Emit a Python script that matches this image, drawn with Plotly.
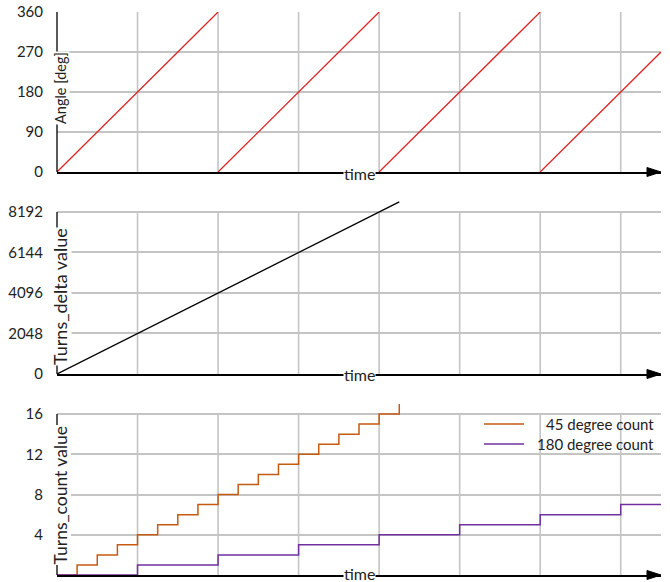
import plotly.graph_objects as go

# ---------------- data ----------------
grid_x = [1, 2, 3, 4, 5, 6, 7]
time_max = 7.5

angle_x = [0, 2, None, 2, 4, None, 4, 6, None, 6, 7.5]
angle_y = [0, 360, None, 0, 360, None, 0, 360, None, 0, 270]
angle_ticks = [0, 90, 180, 270, 360]

delta_x = [0, 4.25]
delta_y = [0, 8704]
delta_ticks = [0, 2048, 4096, 6144, 8192]

count45_x = [0, 0.25, 0.5, 0.75, 1, 1.25, 1.5, 1.75, 2, 2.25, 2.5, 2.75, 3,
             3.25, 3.5, 3.75, 4, 4.25]
count45_y = [0, 1, 2, 3, 4, 5, 6, 7, 8, 9, 10, 11, 12, 13, 14, 15, 16, 17]
count180_x = [0, 1, 2, 3, 4, 5, 6, 7, 7.5]
count180_y = [0, 1, 2, 3, 4, 5, 6, 7, 7]
count_ticks = [0, 4, 8, 12, 16]

legend_names = ["45 degree count", "180 degree count"]
y_titles = ["Angle [deg]", "Turns_delta value", "Turns_count value"]
x_title = "time"

# ---------------- style ----------------
FONT = "Lato, Carlito, Calibri, sans-serif"
RED = "#DD2525"
ORANGE = "#C55A11"
PURPLE = "#7030A0"
GRID = "#C4C4C4"
W, H = 670, 582
ML, MR, MT, MB = 57, 9, 12, 7
PH = H - MT - MB


def domain(y0px, ytoppx, frac):
    bot = (H - MB - y0px) / PH
    top = (H - MB - (y0px - frac * (y0px - ytoppx))) / PH
    return [bot, min(top, 1.0)]


panels = [
    dict(ticks=angle_ticks, rmax=360, px=(172, 12), tsize=14.5, tshift=4),
    dict(ticks=delta_ticks, rmax=8900, px=(374, 212), tsize=18, tshift=-4),
    dict(ticks=count_ticks, rmax=17.6, px=(575, 414), tsize=17.5, tshift=-1),
]

fig = go.Figure()
fig.add_trace(go.Scatter(x=angle_x, y=angle_y, mode="lines",
                         line=dict(color=RED, width=1.3), xaxis="x", yaxis="y",
                         showlegend=False, connectgaps=False))
fig.add_trace(go.Scatter(x=delta_x, y=delta_y, mode="lines",
                         line=dict(color="black", width=1.3), xaxis="x2", yaxis="y2",
                         showlegend=False))
fig.add_trace(go.Scatter(x=count45_x, y=count45_y, mode="lines", line_shape="hv",
                         line=dict(color=ORANGE, width=1.5), xaxis="x3", yaxis="y3",
                         showlegend=False))
fig.add_trace(go.Scatter(x=count180_x, y=count180_y, mode="lines", line_shape="hv",
                         line=dict(color=PURPLE, width=1.5), xaxis="x3", yaxis="y3",
                         showlegend=False))

layout = dict(width=W, height=H, margin=dict(l=ML, r=MR, t=MT, b=MB, autoexpand=False),
              paper_bgcolor="white", plot_bgcolor="white",
              font=dict(family=FONT, size=15, color="#222"),
              showlegend=False)

shapes = []
annotations = []
for i, p in enumerate(panels):
    s = "" if i == 0 else str(i + 1)
    top = p["ticks"][-1]
    frac = p["rmax"] / top
    layout["xaxis" + s] = dict(domain=[0, 1], range=[0, time_max], anchor="y" + s,
                               showgrid=False, showticklabels=False, ticks="",
                               zeroline=False, showline=True, linecolor="black",
                               linewidth=1.5, fixedrange=True, automargin=False)
    layout["yaxis" + s] = dict(domain=domain(p["px"][0], p["px"][1], frac),
                               range=[0, p["rmax"]], anchor="x" + s,
                               tickvals=p["ticks"], ticktext=[str(t) for t in p["ticks"]],
                               showgrid=True, gridcolor=GRID, gridwidth=1.6,
                               zeroline=False, showline=False, ticks="",
                               ticklabelstandoff=13, automargin=False, fixedrange=True,
                               tickfont=dict(family=FONT, size=15, color="#222"))
    # vertical grid lines
    for gx in grid_x:
        shapes.append(dict(type="line", xref="x" + s, yref="y" + s, x0=gx, x1=gx,
                           y0=0, y1=top, line=dict(color=GRID, width=1.6), layer="below"))
    # y axis line
    shapes.append(dict(type="line", xref="x" + s + " domain", yref="y" + s, x0=0, x1=0,
                       y0=0, y1=top, line=dict(color="black", width=1.3)))
    # arrow head
    shapes.append(dict(type="path", xref="x" + s, yref="y" + s + " domain",
                       xsizemode="pixel", ysizemode="pixel",
                       xanchor=time_max, yanchor=0,
                       path="M-14,-4.5 L0,0 L-14,4.5 Z",
                       fillcolor="black", line=dict(color="black", width=1)))
    # y title
    annotations.append(dict(text=y_titles[i], xref="paper", yref="y" + s,
                            x=0, y=top / 2, xshift=3, yshift=p["tshift"], textangle=-90,
                            showarrow=False, bgcolor="white", borderpad=0,
                            xanchor="center", yanchor="middle",
                            font=dict(family=FONT, size=p["tsize"], color="#222")))
    # x title
    annotations.append(dict(text=x_title, xref="x" + s, yref="y" + s,
                            x=time_max / 2, y=0, yshift=-1 if i < 2 else 1,
                            showarrow=False, bgcolor="white", borderpad=0,
                            xanchor="center", yanchor="middle",
                            font=dict(family=FONT, size=16, color="#222")))

# custom legend (right-aligned labels) in bottom panel
leg_y_px = [424, 444]
for name, color, ypx in zip(legend_names, [ORANGE, PURPLE], leg_y_px):
    yp = (H - MB - ypx) / PH
    shapes.append(dict(type="line", xref="paper", yref="paper",
                       x0=(484 - ML) / (W - ML - MR), x1=(524 - ML) / (W - ML - MR),
                       y0=yp, y1=yp, line=dict(color=color, width=1.3)))
    annotations.append(dict(text=name, xref="paper", yref="paper",
                            x=(656 - ML) / (W - ML - MR), y=yp, xanchor="right",
                            yanchor="middle", showarrow=False,
                            font=dict(family=FONT, size=15, color="#222")))

layout["shapes"] = shapes
layout["annotations"] = annotations
fig.update_layout(**layout)
fig.write_html("out.html", config={"responsive": False, "displayModeBar": False},
               post_script="document.body.style.margin='0';"
                           "document.body.style.overflow='hidden';")
